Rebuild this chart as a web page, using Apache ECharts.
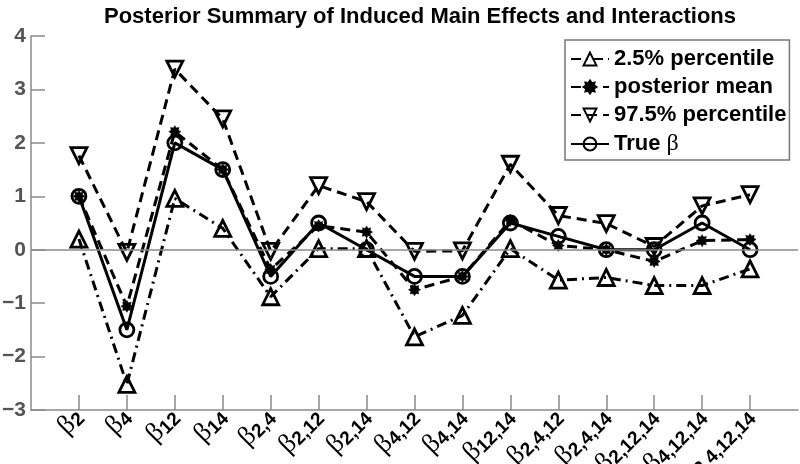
<!DOCTYPE html>
<html>
<head>
<meta charset="utf-8">
<script src="https://cdn.jsdelivr.net/npm/echarts@6/dist/echarts.min.js"></script>
<style>html,body{margin:0;padding:0;background:#fff;}#chart{width:800px;height:464px;}</style>
</head>
<body>
<div id="chart"></div>
<script>
// ---- data ----
const subscripts = ['2','4','12','14','2,4','2,12','2,14','4,12','4,14','12,14','2,4,12','2,4,14','2,12,14','4,12,14','2,4,12,14'];
const p025 = [0.2, -2.52, 0.96, 0.4, -0.88, 0.02, 0.02, -1.63, -1.23, 0.02, -0.57, -0.52, -0.67, -0.67, -0.36];
const postMean = [1.0, -1.06, 2.21, 1.5, -0.37, 0.45, 0.33, -0.75, -0.5, 0.55, 0.08, 0.0, -0.22, 0.17, 0.19];
const p975 = [1.76, -0.05, 3.38, 2.45, -0.03, 1.2, 0.9, -0.03, -0.02, 1.6, 0.64, 0.49, 0.06, 0.82, 1.03];
const trueBeta = [1, -1.5, 2, 1.5, -0.5, 0.5, 0, -0.5, -0.5, 0.5, 0.25, 0, 0, 0.5, 0];
const seriesNames = ['2.5% percentile', 'posterior mean', '97.5% percentile', 'True β'];
const yTicks = [-3, -2, -1, 0, 1, 2, 3, 4];

// ---- helpers ----
const positions = subscripts.map((s, i) => i + 1);
const toPairs = arr => arr.map((v, i) => [positions[i], v]);

// 8-arm asterisk path (bold blob-like)
function starPath() {
  const pts = [];
  for (let k = 0; k < 16; k++) {
    const a = Math.PI * k / 8 - Math.PI / 2;
    const r = (k % 2 === 0) ? 10 : 6.5;
    pts.push((10 + r * Math.cos(a)).toFixed(2) + ' ' + (10 + r * Math.sin(a)).toFixed(2));
  }
  return 'path://M' + pts.join(' L') + ' Z';
}
const STAR = starPath();

const chart = echarts.init(document.getElementById('chart'), null, {renderer: 'canvas'});

const gray = '#8a8a8a';
const baseSeries = (name, data, dash, symbol, size, rotate, fill) => ({
  name, type: 'line', data: toPairs(data),
  symbol, symbolSize: size, symbolRotate: rotate,
  showAllSymbol: true,
  lineStyle: {color: '#000', width: 3, type: dash},
  itemStyle: {color: fill, borderColor: '#000', borderWidth: fill === '#000' ? 0.5 : 2.8},
  emphasis: {disabled: true},
  animation: false
});

const series = [
  baseSeries(seriesNames[0], p025, [10, 5, 2, 5], 'triangle', 16, 0, 'rgba(255,255,255,0)'),
  baseSeries(seriesNames[1], postMean, [10, 6], STAR, 12, 0, '#000'),
  baseSeries(seriesNames[2], p975, [10, 6], 'triangle', 16, 180, 'rgba(255,255,255,0)'),
  baseSeries(seriesNames[3], trueBeta, 'solid', 'circle', 14, 0, 'rgba(255,255,255,0)')
];
series[0].markLine = {
  silent: true, symbol: 'none', animation: false,
  label: {show: false},
  lineStyle: {color: gray, width: 1.5, type: 'solid'},
  data: [{yAxis: 0}]
};

const option = {
  backgroundColor: '#fff',
  animation: false,
  title: {
    text: 'Posterior Summary of Induced Main Effects and Interactions',
    left: 415, top: 1, textAlign: 'center',
    textStyle: {fontFamily: 'Liberation Sans, Arial, sans-serif', fontWeight: 'bold', fontSize: 22, color: '#000'}
  },
  grid: {left: 31, right: 2, top: 36, bottom: 54, containLabel: false, outerBoundsMode: 'none'},
  legend: {
    orient: 'vertical', left: 565, top: 40,
    data: seriesNames,
    backgroundColor: '#fff',
    borderColor: '#777', borderWidth: 1.5,
    padding: [8, 3, 4, 5], itemGap: 6,
    itemWidth: 38, itemHeight: 16,
    formatter: name => name === 'True β' ? '{a|True }{b|β}' : name,
    textStyle: {
      fontFamily: 'Liberation Sans, Arial, sans-serif', fontWeight: 'bold', fontSize: 22, color: '#000',
      rich: {
        a: {fontFamily: 'Liberation Sans, Arial, sans-serif', fontWeight: 'bold', fontSize: 22, color: '#000'},
        b: {fontFamily: 'Liberation Serif, serif', fontWeight: 'normal', fontSize: 24, color: '#000'}
      }
    }
  },
  xAxis: {
    type: 'value', min: 0, max: 16,
    axisLine: {show: true, onZero: false, lineStyle: {color: gray, width: 1.5}},
    axisTick: {show: true, inside: true, length: 15, customValues: positions, lineStyle: {color: gray, width: 1.5}},
    splitLine: {show: false},
    axisLabel: {
      customValues: positions,
      rotate: 45, margin: 3,
      formatter: v => '{b|β}{s|' + subscripts[v - 1] + '}',
      rich: {
        b: {fontFamily: 'Liberation Serif, serif', fontSize: 27, color: '#000', verticalAlign: 'bottom', lineHeight: 28},
        s: {fontFamily: 'Liberation Sans, Arial, sans-serif', fontWeight: 'bold', fontSize: 19, color: '#000', verticalAlign: 'bottom', lineHeight: 19}
      }
    }
  },
  yAxis: {
    type: 'value', min: -3, max: 4, interval: 1,
    axisLine: {show: true, onZero: false, lineStyle: {color: gray, width: 1.5}},
    axisTick: {show: true, inside: true, length: 14, lineStyle: {color: gray, width: 1.5}},
    splitLine: {show: false},
    axisLabel: {
      margin: 5,
      fontFamily: 'Liberation Sans, Arial, sans-serif', fontWeight: 'bold', fontSize: 21, color: '#555',
      formatter: v => yTicks.includes(v) ? String(v).replace('-', '\u2212') : ''
    }
  },
  series
};
chart.setOption(option);
</script>
</body>
</html>
